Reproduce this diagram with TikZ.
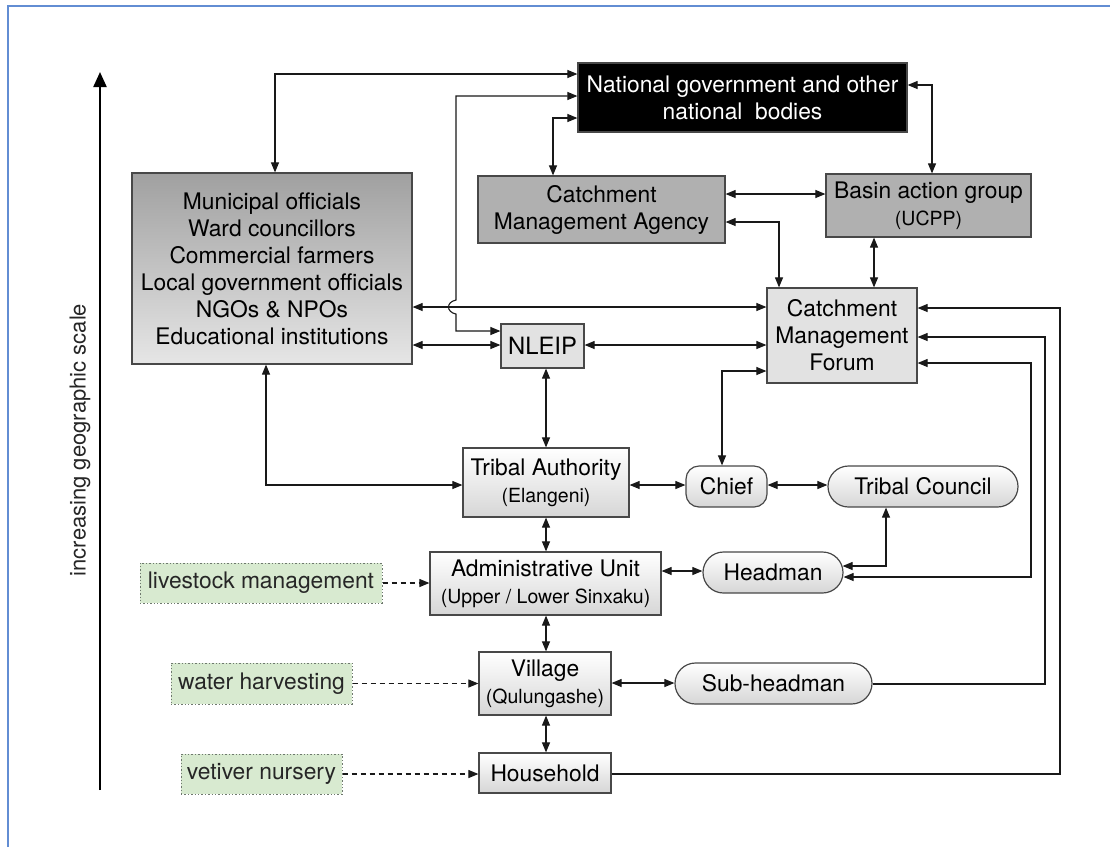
\documentclass[tikz,border=0pt]{standalone}
\usepackage{fontspec}
\setmainfont{TeX Gyre Heros}
\usetikzlibrary{arrows.meta}

\definecolor{frameblue}{RGB}{98,141,211}
\definecolor{edgegray}{RGB}{72,72,72}
\definecolor{linkcol}{RGB}{25,25,25}
\definecolor{agencygray}{RGB}{176,176,176}
\definecolor{forumgray}{RGB}{226,226,226}
\definecolor{muntop}{RGB}{160,160,160}
\definecolor{munbot}{RGB}{230,230,230}
\definecolor{unitbot}{RGB}{214,214,214}
\definecolor{actfill}{RGB}{216,234,208}
\definecolor{actedge}{RGB}{110,120,110}

\newcommand{\boxfont}{\fontsize{22.8}{27}\selectfont}
\newcommand{\notefont}{\fontsize{19.5}{27}\selectfont}

\tikzset{
  box/.style={draw=edgegray, line width=1.2pt, inner sep=0pt, align=center,
              font=\boxfont, text=black},
  darkbox/.style={box, fill=black, text=white},
  agency/.style={box, fill=agencygray},
  forum/.style={box, fill=forumgray},
  munbox/.style={box, top color=muntop, bottom color=munbot},
  unit/.style={box, top color=white, bottom color=unitbot},
  person/.style={unit, rounded corners=20.5pt},
  chiefbox/.style={unit, rounded corners=13pt},
  activity/.style={draw=actedge, fill=actfill, line width=1pt,
                   dash pattern=on 1.4pt off 2pt, inner sep=0pt,
                   font=\boxfont, text=black!85},
  link/.style={draw=linkcol, line width=1.1pt},
  activitylink/.style={link, dash pattern=on 5pt off 4pt},
  >={Triangle[length=10pt,width=8pt]}
}

\begin{document}
\begin{tikzpicture}[x=1pt, y=-1pt]
\useasboundingbox (0,0) rectangle (1110,847);

% page frame (top and left edges)
\draw[frameblue, line width=1.6pt] (8,847) -- (8,6) -- (1110,6);

% scale axis
\coordinate (scalebot) at (100,790);
\coordinate (scaletop) at (100,72);
\draw[draw=black, line width=2.2pt, -{Triangle[length=15pt,width=13pt]}] (scalebot) -- (scaletop);
\node[rotate=90, font=\fontsize{22}{26}\selectfont, text=black!85] (scalelabel) at (80,440)
  {increasing geographic scale};

% national and regional bodies
\node[darkbox, minimum width=329pt, minimum height=69pt] (nat) at (742.5,97.5)
  {National government and other\\national~~bodies};
\node[munbox, minimum width=280pt, minimum height=191pt] (mun) at (272,268.5)
  {\fontsize{22.8}{30}\selectfont Municipal officials\\Ward councillors\\Commercial farmers\\
   Local government officials\\NGOs \& NPOs\\Educational institutions};
\node[agency, minimum width=247pt, minimum height=67pt] (cma) at (601.5,209.5)
  {Catchment\\Management Agency};
\node[agency, minimum width=205pt, minimum height=63pt] (basin) at (928.5,205.5)
  {Basin action group\\{\notefont (UCPP)}};
\node[forum, minimum width=150pt, minimum height=95pt] (cmf) at (842,335.5)
  {Catchment\\Management\\Forum};
\node[forum, minimum width=83pt, minimum height=44pt] (nleip) at (542.5,346)
  {\fontsize{23.8}{27}\selectfont NLEIP};

% local levels
\node[unit, minimum width=166pt, minimum height=69pt] (tribal) at (546,482.5)
  {Tribal Authority\\{\notefont (Elangeni)}};
\node[unit, minimum width=231pt, minimum height=63pt] (admin) at (545.5,583.5)
  {Administrative Unit\\{\notefont (Upper / Lower Sinxaku)}};
\node[unit, minimum width=132pt, minimum height=63pt] (village) at (545,683.5)
  {Village\\{\notefont (Qulungashe)}};
\node[unit, minimum width=132pt, minimum height=40pt] (household) at (545,773)
  {Household};

% traditional leaders
\node[chiefbox, minimum width=81pt, minimum height=41pt] (chief) at (726.5,486.5) {Chief};
\node[person, minimum width=190pt, minimum height=41pt] (tc) at (923,486.5) {Tribal Council};
\node[person, minimum width=140pt, minimum height=41pt] (headman) at (773,572.5) {Headman};
\node[person, minimum width=197pt, minimum height=41pt] (sub) at (773.5,683.5) {Sub-headman};

% land-care activities
\node[activity, minimum width=242pt, minimum height=40pt] (livestock) at (261,583) {livestock management};
\node[activity, minimum width=181pt, minimum height=41pt] (water) at (261.5,683.5) {water harvesting};
\node[activity, minimum width=161pt, minimum height=40pt] (vetiver) at (261.5,774) {vetiver nursery};

% links to national government
\draw[link, <->] (nat.west |- 0,74) -| (mun.north -| 275,0);
\draw[link, <->] (nat.west |- 0,96) -- (456,96) -- (456,300)
  .. controls (446,302) and (446,312) .. (456,314) -- (456,331) -- (nleip.west |- 0,331);
\draw[link, <->] (nat.west |- 0,118) -| (cma.north -| 553,0);
\draw[link, <->] (nat.east |- 0,85) -| (basin.north -| 932,0);

% catchment level
\draw[link, <->] (cma.east |- 0,194) -- (basin.west |- 0,194);
\draw[link, <->] (cma.east |- 0,222) -| (cmf.north -| 779,0);
\draw[link, <->] (basin.south -| 874,0) -- (cmf.north -| 874,0);
\draw[link, <->] (mun.east |- 0,307) -- (cmf.west |- 0,307);
\draw[link, <->] (mun.east |- 0,345) -- (nleip.west |- 0,345);
\draw[link, <->] (nleip.east |- 0,345) -- (cmf.west |- 0,345);

% local chain
\draw[link, <->] (nleip.south -| 546,0) -- (tribal.north -| 546,0);
\draw[link, <->] (mun.south -| 266,0) |- (tribal.west |- 0,485);
\draw[link, <->] (chief.north -| 722,0) |- (cmf.west |- 0,371);
\draw[link, <->] (tribal.east |- 0,485) -- (chief.west |- 0,485);
\draw[link, <->] (chief.east |- 0,485) -- (tc.west |- 0,485);
\draw[link, <->] (tribal.south -| 546,0) -- (admin.north -| 546,0);
\draw[link, <->] (admin.east |- 0,571) -- (headman.west |- 0,571);
\draw[link, <->] ([xshift=-1pt]headman.east |- 0,566) -| (tc.south -| 886,0);
\draw[link, <->] (cmf.east |- 0,363) -| (1031,577) -- (headman.east |- 0,577);
\draw[link, <->] (admin.south -| 546,0) -- (village.north -| 546,0);
\draw[link, <->] (village.east |- 0,683) -- (sub.west |- 0,683);
\draw[link, ->] (sub.east |- 0,684) -| (1045,337) -- (cmf.east |- 0,337);
\draw[link, <->] (village.south -| 546,0) -- (household.north -| 546,0);
\draw[link, ->] (household.east |- 0,774) -| (1060,308) -- (cmf.east |- 0,308);

% activities feeding the local levels
\draw[activitylink, ->] (livestock.east) -- (admin.west |- livestock.east);
\draw[activitylink, ->] (water.east) -- (village.west |- water.east);
\draw[activitylink, ->] (vetiver.east) -- (household.west |- vetiver.east);
\end{tikzpicture}
\end{document}
